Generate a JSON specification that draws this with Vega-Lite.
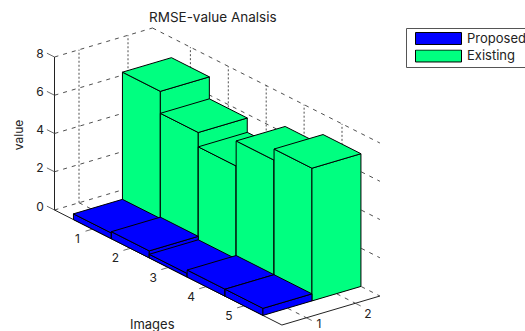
{
  "$schema": "https://vega.github.io/schema/vega-lite/v6.json",
  "width": 525,
  "height": 331,
  "padding": 0,
  "autosize": "none",
  "background": "white",
  "title": {
    "text": "RMSE-value Analsis",
    "anchor": "start",
    "frame": "group",
    "dx": 149,
    "dy": 28,
    "font": "Inter",
    "fontSize": 13.5,
    "fontWeight": "normal",
    "color": "#222222"
  },
  "config": {"view": {"stroke": null}},
  "datasets": {
    "bars": [
      {"image": 1, "series": "Existing", "value": 6.95},
      {"image": 2, "series": "Existing", "value": 5.8},
      {"image": 3, "series": "Existing", "value": 5.05},
      {"image": 4, "series": "Existing", "value": 6.36},
      {"image": 5, "series": "Existing", "value": 6.94},
      {"image": 1, "series": "Proposed", "value": 0.3},
      {"image": 2, "series": "Proposed", "value": 0.37},
      {"image": 3, "series": "Proposed", "value": 0.19},
      {"image": 4, "series": "Proposed", "value": 0.37},
      {"image": 5, "series": "Proposed", "value": 0.37}
    ],
    "ticks": [
      {"dim": "value", "tick": 0},
      {"dim": "value", "tick": 2},
      {"dim": "value", "tick": 4},
      {"dim": "value", "tick": 6},
      {"dim": "value", "tick": 8},
      {"dim": "image", "tick": 1},
      {"dim": "image", "tick": 2},
      {"dim": "image", "tick": 3},
      {"dim": "image", "tick": 4},
      {"dim": "image", "tick": 5},
      {"dim": "series", "tick": 1},
      {"dim": "series", "tick": 2}
    ],
    "axes": [
      {"dim": "value", "title": "value"},
      {"dim": "image", "title": "Images"},
      {"dim": "series", "title": ""}
    ]
  },
  "encoding": {
    "x": {"field": "sx", "type": "quantitative", "axis": null, "scale": {"domain": [0, 525], "range": [0, 525], "nice": false, "zero": false}},
    "y": {"field": "sy", "type": "quantitative", "axis": null, "scale": {"domain": [331, 0], "range": [331, 0], "nice": false, "zero": false}}
  },
  "layer": [
    {
      "description": "Dashed grid on the two back walls and the floor of the 3-D box",
      "data": {"name": "ticks"},
      "transform": [
        {"calculate": "datum.dim == 'value' ? [[0,0.5,datum.tick,0,2.5,datum.tick],[0,2.5,datum.tick,6,2.5,datum.tick]] : datum.dim == 'image' ? [[datum.tick,0.5,0,datum.tick,2.5,0],[datum.tick,2.5,0,datum.tick,2.5,8]] : [[0,datum.tick,0,6,datum.tick,0],[0,datum.tick,0,0,datum.tick,8]]", "as": "edge"},
        {"flatten": ["edge"]},
        {"calculate": "54.5+37.9*datum.edge[0]+49*(datum.edge[1]-0.5)", "as": "sx"},
        {"calculate": "210+19.17*datum.edge[0]-14.5*(datum.edge[1]-0.5)-19.125*datum.edge[2]", "as": "sy"},
        {"calculate": "54.5+37.9*datum.edge[3]+49*(datum.edge[4]-0.5)", "as": "sx2"},
        {"calculate": "210+19.17*datum.edge[3]-14.5*(datum.edge[4]-0.5)-19.125*datum.edge[5]", "as": "sy2"},
        {"calculate": "datum.edge[2] != datum.edge[5] ? 'vertical' : 'level'", "as": "style"}
      ],
      "mark": {"type": "rule", "stroke": "#222222", "strokeWidth": 0.8},
      "encoding": {
        "x2": {"field": "sx2"},
        "y2": {"field": "sy2"},
        "strokeDash": {"field": "style", "type": "nominal", "legend": null, "scale": {"domain": ["vertical", "level"], "range": [[2, 2], [4, 5]]}}
      }
    },
    {
      "description": "Solid axis lines",
      "data": {"name": "axes"},
      "transform": [
        {"calculate": "datum.dim == 'value' ? [0,0.5,0,0,0.5,8] : datum.dim == 'image' ? [0,0.5,0,6,0.5,0] : [6,0.5,0,6,2.5,0]", "as": "edge"},
        {"calculate": "54.5+37.9*datum.edge[0]+49*(datum.edge[1]-0.5)", "as": "sx"},
        {"calculate": "210+19.17*datum.edge[0]-14.5*(datum.edge[1]-0.5)-19.125*datum.edge[2]", "as": "sy"},
        {"calculate": "54.5+37.9*datum.edge[3]+49*(datum.edge[4]-0.5)", "as": "sx2"},
        {"calculate": "210+19.17*datum.edge[3]-14.5*(datum.edge[4]-0.5)-19.125*datum.edge[5]", "as": "sy2"}
      ],
      "mark": {"type": "rule", "stroke": "#222222", "strokeWidth": 1},
      "encoding": {"x2": {"field": "sx2"}, "y2": {"field": "sy2"}}
    },
    {
      "description": "Short tick marks on the three axes",
      "data": {"name": "ticks"},
      "transform": [
        {"calculate": "datum.dim == 'value' ? [0,0.5,datum.tick,-0.2,0.5,datum.tick] : datum.dim == 'image' ? [datum.tick,0.5,0,datum.tick,0.36,0] : [6,datum.tick,0,6.14,datum.tick,0]", "as": "edge"},
        {"calculate": "54.5+37.9*datum.edge[0]+49*(datum.edge[1]-0.5)", "as": "sx"},
        {"calculate": "210+19.17*datum.edge[0]-14.5*(datum.edge[1]-0.5)-19.125*datum.edge[2]", "as": "sy"},
        {"calculate": "54.5+37.9*datum.edge[3]+49*(datum.edge[4]-0.5)", "as": "sx2"},
        {"calculate": "210+19.17*datum.edge[3]-14.5*(datum.edge[4]-0.5)-19.125*datum.edge[5]", "as": "sy2"}
      ],
      "mark": {"type": "rule", "stroke": "#444444", "strokeWidth": 0.8},
      "encoding": {"x2": {"field": "sx2"}, "y2": {"field": "sy2"}}
    },
    {
      "description": "Visible faces of each 3-D bar, back to front",
      "data": {"name": "bars"},
      "transform": [
        {"calculate": "datum.series == 'Proposed' ? 1 : 2", "as": "slot"},
        {"calculate": "[['y',0,-0.5,-0.5,0],['y',1,0.5,-0.5,0],['y',2,0.5,-0.5,1],['y',3,-0.5,-0.5,1],['x',0,0.5,-0.5,0],['x',1,0.5,0.5,0],['x',2,0.5,0.5,1],['x',3,0.5,-0.5,1],['t',0,-0.5,-0.5,1],['t',1,0.5,-0.5,1],['t',2,0.5,0.5,1],['t',3,-0.5,0.5,1]]", "as": "vertex"},
        {"flatten": ["vertex"]},
        {"calculate": "datum.series + '-' + datum.image + '-' + datum.vertex[0]", "as": "face"},
        {"calculate": "datum.vertex[1]", "as": "corner"},
        {"calculate": "54.5+37.9*(datum.image+datum.vertex[2])+49*(datum.slot+datum.vertex[3]-0.5)", "as": "sx"},
        {"calculate": "210+19.17*(datum.image+datum.vertex[2])-14.5*(datum.slot+datum.vertex[3]-0.5)-19.125*datum.value*datum.vertex[4]", "as": "sy"}
      ],
      "mark": {"type": "line", "interpolate": "linear-closed", "stroke": "#000000", "strokeWidth": 1, "strokeJoin": "round"},
      "encoding": {
        "detail": {"field": "face", "type": "nominal"},
        "order": {"field": "corner", "type": "quantitative"},
        "fill": {
          "field": "series",
          "type": "nominal",
          "scale": {"domain": ["Proposed", "Existing"], "range": ["#0000ff", "#00ff80"]},
          "legend": {
            "title": null,
            "orient": "none",
            "legendX": 406,
            "legendY": 28,
            "padding": 4,
            "strokeColor": "#555555",
            "fillColor": "white",
            "symbolType": "M-1,-0.26H1V0.26H-1Z",
            "symbolSize": 2116,
            "symbolOffset": 5,
            "symbolStrokeColor": "#000000",
            "symbolStrokeWidth": 1,
            "symbolOpacity": 1,
            "clipHeight": 13,
            "rowPadding": 3.5,
            "labelOffset": 5,
            "labelFont": "Inter",
            "labelFontSize": 13,
            "labelColor": "#222222",
            "labelLimit": 100
          }
        }
      }
    },
    {
      "description": "Tick labels",
      "data": {"name": "ticks"},
      "transform": [
        {"calculate": "datum.dim == 'value' ? 54.5-14.5 : datum.dim == 'image' ? 54.5+37.9*datum.tick-15 : 281.9+49*(datum.tick-0.5)+12.6", "as": "sx"},
        {"calculate": "datum.dim == 'value' ? 210-19.125*datum.tick-3.5 : datum.dim == 'image' ? 210+19.17*datum.tick+10 : datum.tick == 1 ? 324 : 325-14.5*1.5+10.5", "as": "sy"}
      ],
      "mark": {"type": "text", "font": "Inter", "fontSize": 12, "color": "#222222", "align": "center", "baseline": "middle"},
      "encoding": {"text": {"field": "tick", "type": "quantitative"}}
    },
    {
      "description": "Axis titles",
      "data": {"name": "axes"},
      "transform": [
        {"filter": "datum.title != ''"},
        {"calculate": "datum.dim == 'value' ? 54.5-35.5 : 54.5+37.9*3-16", "as": "sx"},
        {"calculate": "datum.dim == 'value' ? 210-19.125*4+1.5 : 210+19.17*3+57.5", "as": "sy"},
        {"calculate": "datum.dim == 'value' ? 270 : 0", "as": "turn"},
        {"calculate": "datum.dim == 'value' ? 12 : 13", "as": "size"}
      ],
      "mark": {"type": "text", "font": "Inter", "color": "#222222", "align": "center", "baseline": "middle"},
      "encoding": {
        "text": {"field": "title", "type": "nominal"},
        "angle": {"field": "turn", "type": "quantitative", "scale": null},
        "size": {"field": "size", "type": "quantitative", "scale": null}
      }
    }
  ]
}
